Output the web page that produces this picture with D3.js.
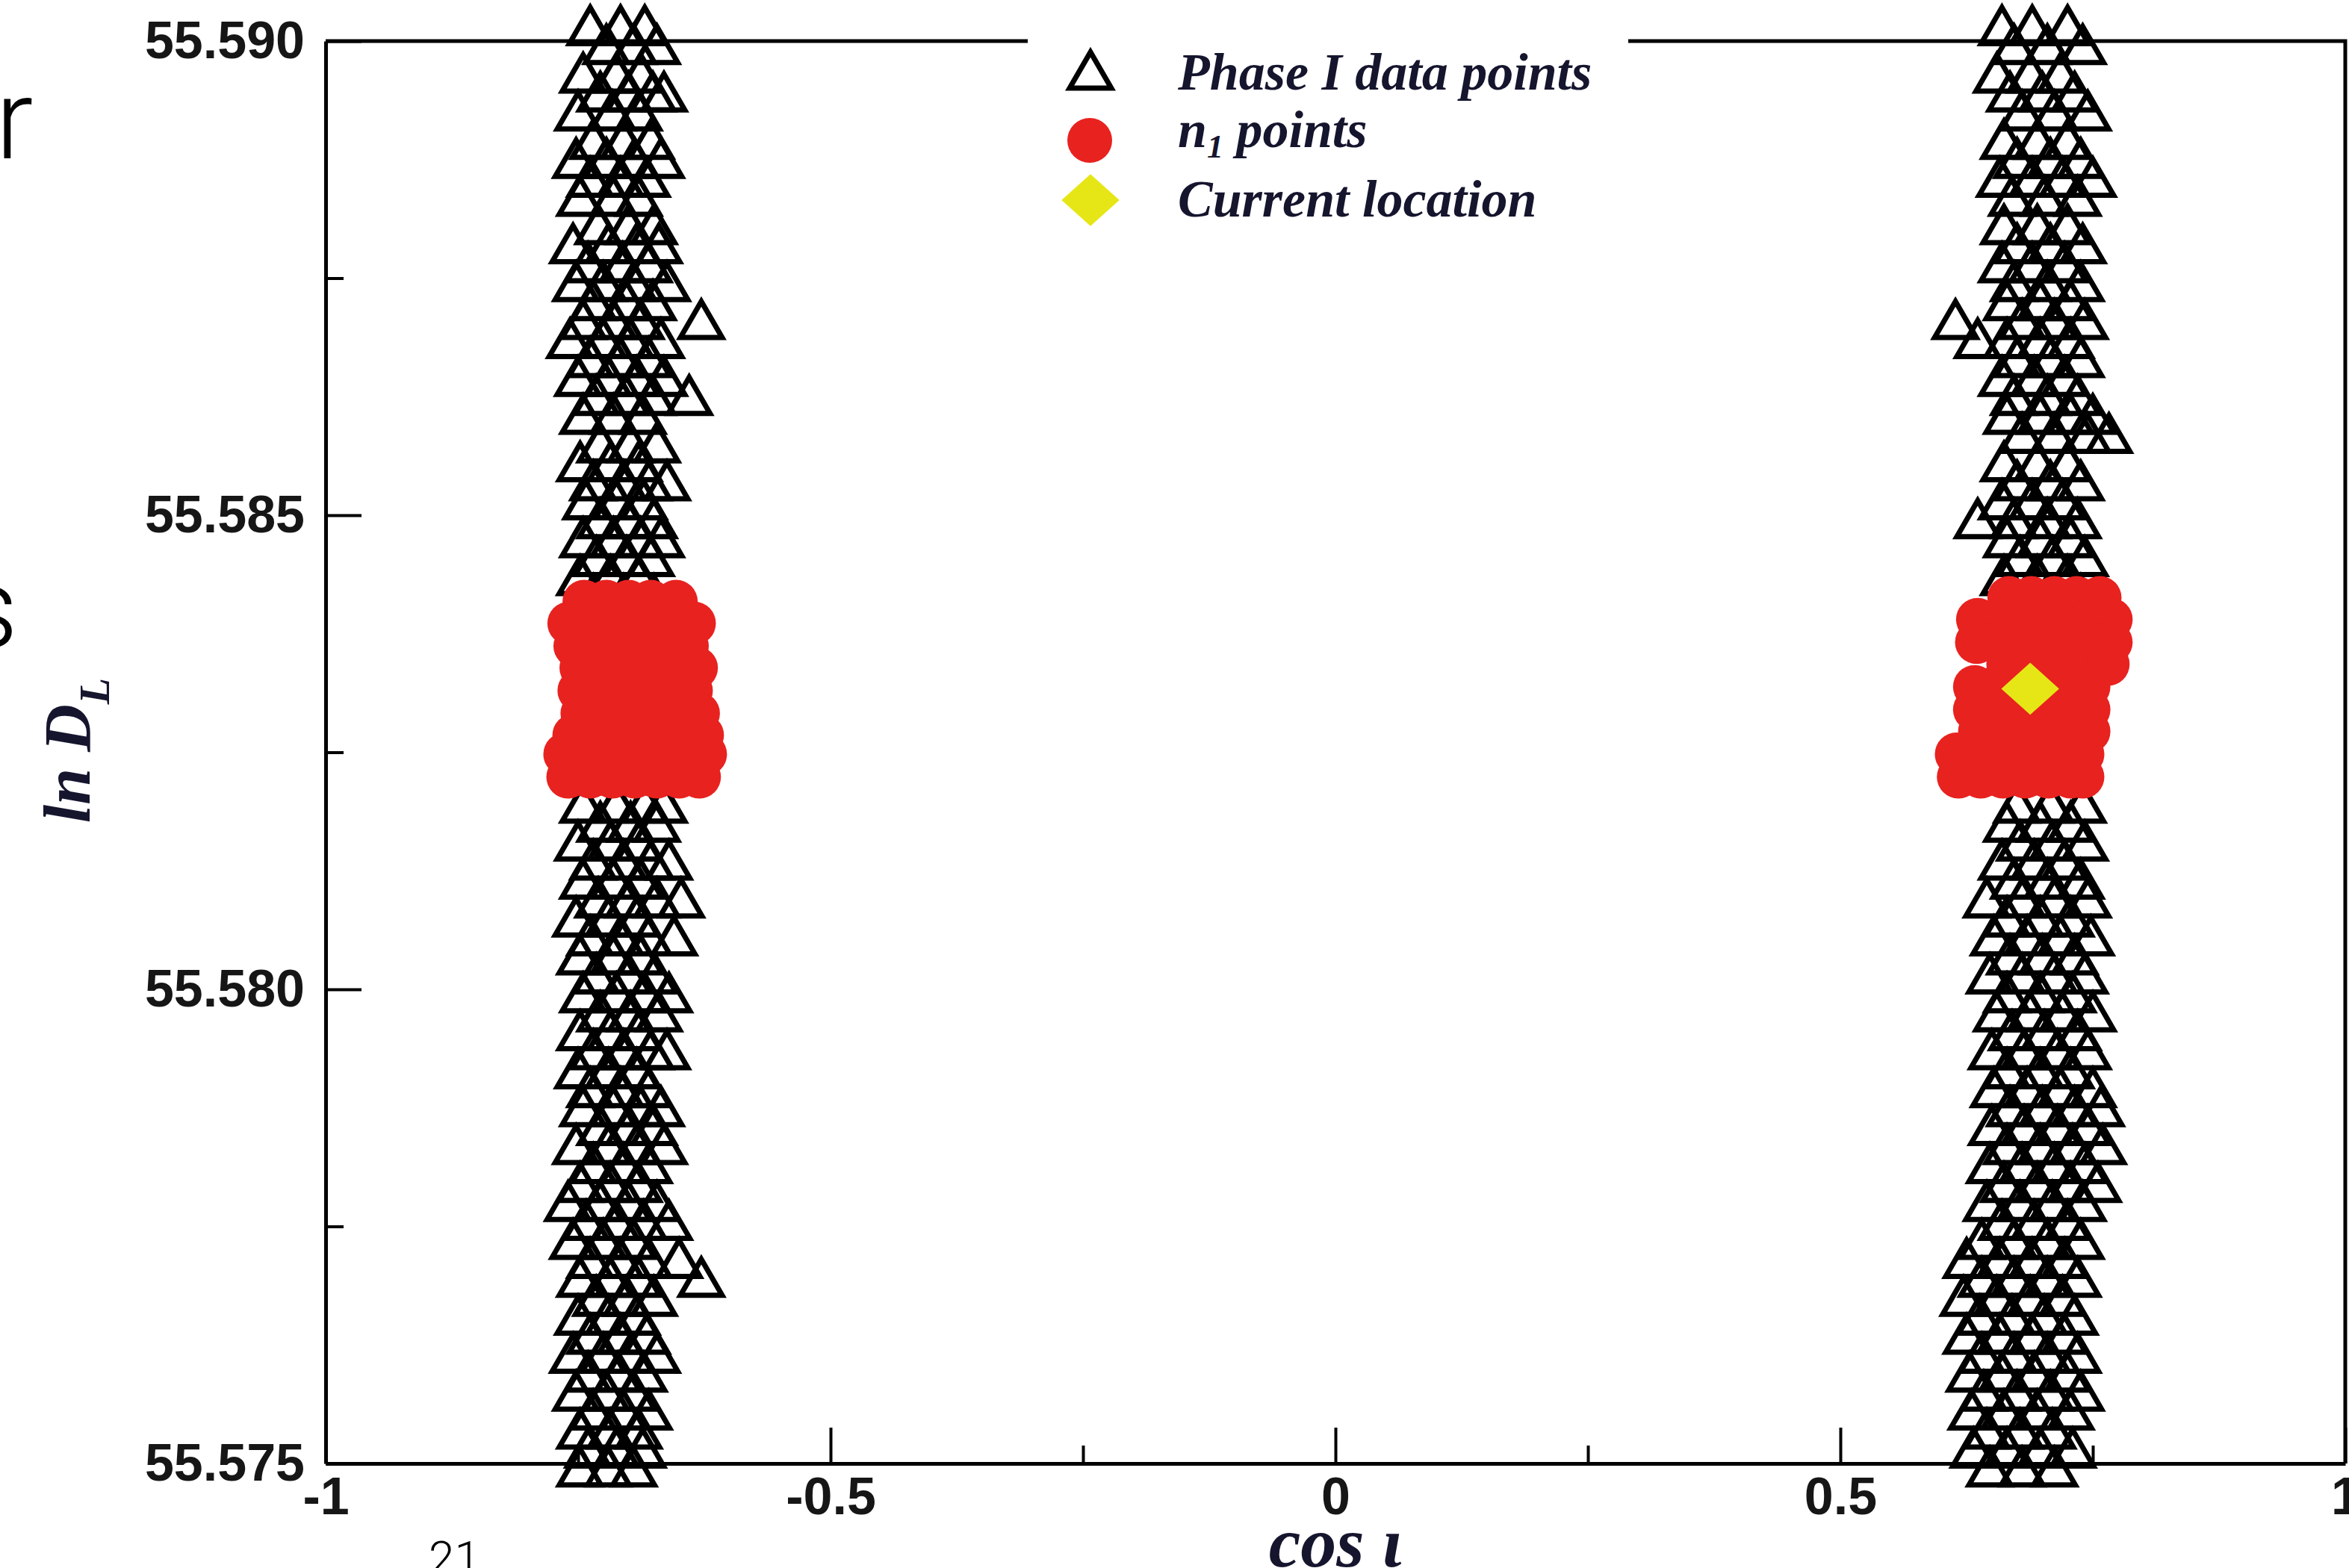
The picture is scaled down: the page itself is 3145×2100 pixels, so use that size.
<!DOCTYPE html>
<html>
<head>
<meta charset="utf-8">
<script src="https://cdn.jsdelivr.net/npm/d3@7"></script>
<style>
body { margin: 0; background: #fff; }
svg { display: block; }
</style>
</head>
<body>
<script>
// axis ticks
var xMajor = [-1, -0.5, 0, 0.5, 1];
var xMinor = [-0.75, -0.25, 0.25, 0.75];
var yMajor = [55.575, 55.580, 55.585, 55.590];
var yMinor = [55.5775, 55.5825, 55.5875];

// phase I points, rows of [lnDL, cos i, cos i, ...]
var phaseLeft = [
	[55.5901, -0.738, -0.708, -0.684],
	[55.5899, -0.722, -0.695, -0.672],
	[55.5896, -0.745, -0.712, -0.688],
	[55.5894, -0.728, -0.700, -0.676, -0.665],
	[55.5892, -0.750, -0.716, -0.690],
	[55.5889, -0.735, -0.705, -0.678],
	[55.5887, -0.752, -0.722, -0.694, -0.668],
	[55.5885, -0.738, -0.708, -0.682],
	[55.5883, -0.748, -0.715, -0.690],
	[55.5880, -0.730, -0.700, -0.675],
	[55.5878, -0.755, -0.720, -0.692, -0.670],
	[55.5876, -0.740, -0.706, -0.680],
	[55.5874, -0.752, -0.725, -0.695, -0.662],
	[55.5872, -0.735, -0.702, -0.676],
	[55.5870, -0.745, -0.715, -0.688, -0.628],
	[55.5868, -0.758, -0.725, -0.698, -0.668],
	[55.5866, -0.738, -0.708, -0.680],
	[55.5864, -0.750, -0.720, -0.692, -0.665],
	[55.5862, -0.732, -0.702, -0.676, -0.640],
	[55.5860, -0.745, -0.715, -0.686],
	[55.5857, -0.728, -0.698, -0.672],
	[55.5855, -0.748, -0.718, -0.690],
	[55.5853, -0.735, -0.705, -0.680, -0.662],
	[55.5851, -0.742, -0.712, -0.685],
	[55.5849, -0.728, -0.700, -0.675],
	[55.5847, -0.745, -0.715, -0.688, -0.668],
	[55.5845, -0.732, -0.702, -0.678],
	[55.5843, -0.748, -0.718, -0.690],
	[55.5841, -0.735, -0.705, -0.675],
	[55.5838, -0.725, -0.695, -0.668],
	[55.5834, -0.740, -0.705, -0.678],
	[55.5830, -0.728, -0.695, -0.670],
	[55.5826, -0.742, -0.708, -0.680],
	[55.5822, -0.730, -0.700, -0.672],
	[55.5819, -0.745, -0.712, -0.684, -0.665],
	[55.5817, -0.728, -0.698, -0.672],
	[55.5815, -0.750, -0.718, -0.690],
	[55.5813, -0.735, -0.705, -0.678, -0.660],
	[55.5811, -0.745, -0.715, -0.688],
	[55.5809, -0.730, -0.700, -0.672, -0.648],
	[55.5807, -0.752, -0.720, -0.692],
	[55.5805, -0.738, -0.708, -0.680, -0.655],
	[55.5803, -0.748, -0.715, -0.688],
	[55.5801, -0.732, -0.700, -0.674],
	[55.5799, -0.745, -0.712, -0.684, -0.660],
	[55.5797, -0.728, -0.698, -0.670],
	[55.5795, -0.748, -0.718, -0.690],
	[55.5793, -0.735, -0.705, -0.678, -0.662],
	[55.5791, -0.750, -0.720, -0.692],
	[55.5789, -0.738, -0.708, -0.680],
	[55.5787, -0.745, -0.715, -0.688, -0.668],
	[55.5785, -0.728, -0.700, -0.675],
	[55.5783, -0.752, -0.720, -0.692, -0.665],
	[55.5781, -0.735, -0.705, -0.680],
	[55.5779, -0.748, -0.718, -0.690],
	[55.5777, -0.760, -0.728, -0.700, -0.672],
	[55.5775, -0.742, -0.712, -0.685, -0.660],
	[55.5773, -0.755, -0.725, -0.695],
	[55.5771, -0.738, -0.708, -0.680, -0.650],
	[55.5769, -0.748, -0.718, -0.690, -0.628],
	[55.5767, -0.732, -0.702, -0.675],
	[55.5765, -0.750, -0.720, -0.692],
	[55.5763, -0.738, -0.708, -0.682],
	[55.5761, -0.755, -0.725, -0.698, -0.672],
	[55.5759, -0.740, -0.710, -0.685],
	[55.5757, -0.752, -0.722, -0.695],
	[55.5755, -0.735, -0.705, -0.680],
	[55.5753, -0.748, -0.718, -0.690],
	[55.5751, -0.740, -0.712, -0.686],
	[55.5749, -0.748, -0.720, -0.695]
];

var phaseRight = [
	[55.5901, 0.660, 0.690, 0.725],
	[55.5899, 0.672, 0.705, 0.740],
	[55.5896, 0.655, 0.688, 0.718],
	[55.5894, 0.668, 0.700, 0.732],
	[55.5892, 0.680, 0.712, 0.745],
	[55.5889, 0.662, 0.695, 0.725],
	[55.5887, 0.675, 0.708, 0.738],
	[55.5885, 0.658, 0.690, 0.720, 0.750],
	[55.5883, 0.670, 0.702, 0.735],
	[55.5880, 0.662, 0.695, 0.725],
	[55.5878, 0.675, 0.708, 0.740],
	[55.5876, 0.660, 0.690, 0.722],
	[55.5874, 0.672, 0.705, 0.738],
	[55.5872, 0.665, 0.698, 0.728],
	[55.5870, 0.614, 0.680, 0.712, 0.742],
	[55.5868, 0.636, 0.665, 0.698, 0.728],
	[55.5866, 0.675, 0.708, 0.738],
	[55.5864, 0.660, 0.692, 0.722],
	[55.5862, 0.672, 0.705, 0.735],
	[55.5860, 0.665, 0.698, 0.728, 0.750],
	[55.5858, 0.680, 0.712, 0.745, 0.766],
	[55.5855, 0.662, 0.695, 0.725],
	[55.5853, 0.675, 0.708, 0.738],
	[55.5851, 0.660, 0.690, 0.720],
	[55.5849, 0.636, 0.672, 0.705, 0.735],
	[55.5847, 0.665, 0.698, 0.728],
	[55.5845, 0.678, 0.710, 0.742],
	[55.5843, 0.662, 0.695, 0.725],
	[55.5841, 0.672, 0.705, 0.738],
	[55.5838, 0.665, 0.698, 0.730],
	[55.5834, 0.675, 0.708, 0.740],
	[55.5830, 0.662, 0.695, 0.728],
	[55.5826, 0.672, 0.705, 0.735],
	[55.5822, 0.660, 0.692, 0.725],
	[55.5819, 0.675, 0.708, 0.740],
	[55.5817, 0.665, 0.698, 0.728],
	[55.5815, 0.678, 0.710, 0.742],
	[55.5813, 0.660, 0.692, 0.722],
	[55.5811, 0.672, 0.705, 0.738],
	[55.5809, 0.645, 0.680, 0.712, 0.745],
	[55.5807, 0.665, 0.698, 0.728],
	[55.5805, 0.652, 0.685, 0.718, 0.748],
	[55.5803, 0.668, 0.700, 0.732],
	[55.5801, 0.648, 0.680, 0.712, 0.742],
	[55.5799, 0.665, 0.698, 0.730],
	[55.5797, 0.655, 0.688, 0.720, 0.750],
	[55.5795, 0.670, 0.702, 0.735],
	[55.5793, 0.650, 0.682, 0.715, 0.745],
	[55.5791, 0.665, 0.698, 0.728],
	[55.5789, 0.652, 0.685, 0.718, 0.750],
	[55.5787, 0.668, 0.700, 0.732, 0.758],
	[55.5785, 0.650, 0.682, 0.715, 0.745],
	[55.5783, 0.665, 0.698, 0.730, 0.760],
	[55.5781, 0.648, 0.680, 0.712, 0.742],
	[55.5779, 0.662, 0.695, 0.728, 0.755],
	[55.5777, 0.645, 0.678, 0.710, 0.740],
	[55.5775, 0.660, 0.692, 0.725],
	[55.5773, 0.640, 0.672, 0.705, 0.738],
	[55.5771, 0.625, 0.658, 0.690, 0.722],
	[55.5769, 0.640, 0.672, 0.705, 0.735],
	[55.5767, 0.622, 0.655, 0.688, 0.720],
	[55.5765, 0.638, 0.670, 0.702, 0.732],
	[55.5763, 0.625, 0.658, 0.690, 0.722],
	[55.5761, 0.640, 0.672, 0.705, 0.735],
	[55.5759, 0.628, 0.660, 0.692, 0.725],
	[55.5757, 0.642, 0.675, 0.708, 0.738],
	[55.5755, 0.630, 0.662, 0.695, 0.728],
	[55.5753, 0.645, 0.678, 0.710],
	[55.5751, 0.632, 0.665, 0.698, 0.730],
	[55.5749, 0.648, 0.680, 0.712]
];

// n1 points
var n1Left = [
	[55.58409, -0.744, -0.722, -0.700, -0.678, -0.653],
	[55.58386, -0.759, -0.737, -0.714, -0.692, -0.670, -0.648, -0.635],
	[55.58362, -0.753, -0.731, -0.709, -0.686, -0.664, -0.642],
	[55.58339, -0.747, -0.725, -0.703, -0.680, -0.658, -0.633],
	[55.58315, -0.749, -0.727, -0.705, -0.683, -0.660, -0.638],
	[55.58291, -0.746, -0.723, -0.701, -0.679, -0.657, -0.631],
	[55.58268, -0.754, -0.732, -0.710, -0.688, -0.666, -0.644, -0.627],
	[55.58248, -0.763, -0.741, -0.719, -0.697, -0.675, -0.652, -0.624],
	[55.58224, -0.760, -0.738, -0.716, -0.694, -0.672, -0.650, -0.630]
];
var n1Right = [
	[55.58413, 0.667, 0.689, 0.712, 0.734, 0.757],
	[55.58390, 0.636, 0.658, 0.681, 0.703, 0.725, 0.747, 0.768],
	[55.58366, 0.635, 0.657, 0.679, 0.701, 0.723, 0.746, 0.768],
	[55.58343, 0.666, 0.688, 0.710, 0.732, 0.754, 0.765],
	[55.58319, 0.633, 0.655, 0.678, 0.700, 0.722, 0.746],
	[55.58295, 0.633, 0.655, 0.678, 0.700, 0.722, 0.746],
	[55.58272, 0.638, 0.660, 0.682, 0.704, 0.726, 0.746],
	[55.58248, 0.615, 0.638, 0.660, 0.682, 0.704, 0.726, 0.740],
	[55.58224, 0.617, 0.639, 0.661, 0.683, 0.706, 0.728, 0.740]
];

var current = [0.688, 55.58317];

var W = 3145, H = 2100;
var red = "#e8221f", yellow = "#e6e617", ink = "#161616", navy = "#15152e";

var x = d3.scaleLinear().domain([-1, 1]).range([436, 3140]);
var y = d3.scaleLinear().domain([55.575, 55.590]).range([1960, 55]);

function toPoints(rows) {
	return d3.merge(rows.map(function(r) {
		return r.slice(1).map(function(v) { return {x: v, y: r[0]}; });
	}));
}

// rhombus like the xmgrace diamond
var diamond = {
	draw: function(ctx, size) {
		var w = Math.sqrt(size) / 2, h = w * 0.9;
		ctx.moveTo(0, -h); ctx.lineTo(w, 0); ctx.lineTo(0, h); ctx.lineTo(-w, 0); ctx.closePath();
	}
};

var svg = d3.select("body").append("svg")
	.attr("width", W).attr("height", H);
svg.append("rect").attr("width", W).attr("height", H).attr("fill", "#fff");

// slide leftovers around the figure
var slide = svg.append("g")
	.attr("font-family", "Roboto, 'Liberation Sans', sans-serif")
	.attr("font-weight", 300).attr("fill", "#000");
slide.append("text").attr("x", -6).attr("y", 212).attr("font-size", 150).text("r");
slide.append("text").attr("x", -52).attr("y", 867).attr("font-size", 150).text("s");
slide.append("text").attr("x", 574).attr("y", 2108).attr("font-size", 62).text("21");

// axes
function styleAxis(g) {
	g.select(".domain").attr("stroke", "#000").attr("stroke-width", 5);
	g.selectAll(".tick line").attr("stroke", "#000").attr("stroke-width", 4);
	g.selectAll(".tick text")
		.attr("font-family", "'Liberation Sans', Arial, sans-serif")
		.attr("font-weight", "bold").attr("font-size", 70).attr("fill", ink);
}

svg.append("g").attr("transform", "translate(0,1960)")
	.call(d3.axisBottom(x).tickValues(xMajor).tickSize(-48).tickSizeOuter(0).tickPadding(18)
		.tickFormat(function(d) { return String(d); }))
	.call(styleAxis);
svg.append("g").attr("transform", "translate(0,1960)")
	.call(d3.axisBottom(x).tickValues(xMinor).tickSize(-24).tickFormat(""))
	.call(styleAxis)
	.select(".domain").remove();

svg.append("g").attr("transform", "translate(436,0)")
	.call(d3.axisLeft(y).tickValues(yMajor).tickSize(-48).tickSizeOuter(0).tickPadding(28)
		.tickFormat(d3.format(".3f")))
	.call(styleAxis);
svg.append("g").attr("transform", "translate(436,0)")
	.call(d3.axisLeft(y).tickValues(yMinor).tickSize(-24).tickFormat(""))
	.call(styleAxis)
	.select(".domain").remove();

// top and right frame
svg.append("path")
	.attr("d", "M" + x(-1) + "," + y(55.590) + "H" + x(1) + "V" + y(55.575))
	.attr("fill", "none").attr("stroke", "#000").attr("stroke-width", 5);

// axis titles
var ylab = svg.append("text")
	.attr("transform", "translate(120,1005) rotate(-90)")
	.attr("text-anchor", "middle")
	.attr("font-family", "'Liberation Serif', 'Times New Roman', serif")
	.attr("font-style", "italic").attr("font-weight", "bold")
	.attr("font-size", 88).attr("fill", navy);
ylab.append("tspan").text("ln D");
ylab.append("tspan").attr("font-size", 58).attr("dy", 26).text("L");

svg.append("text")
	.attr("x", 1788).attr("y", 2098)
	.attr("text-anchor", "middle")
	.attr("font-family", "'Liberation Serif', 'Times New Roman', serif")
	.attr("font-style", "italic").attr("font-weight", "bold")
	.attr("font-size", 96).attr("fill", navy)
	.text("cos \u03b9");

// phase I triangles
var tri = d3.symbol().type(d3.symbolTriangle).size(1350);
svg.append("g").selectAll("path")
	.data(toPoints(phaseLeft).concat(toPoints(phaseRight)))
	.enter().append("path")
	.attr("d", tri)
	.attr("transform", function(d) { return "translate(" + x(d.x) + "," + y(d.y) + ")"; })
	.attr("fill", "none").attr("stroke", "#000").attr("stroke-width", 7)
	.attr("stroke-linejoin", "miter");

// n1 points
svg.append("g").selectAll("circle")
	.data(toPoints(n1Left).concat(toPoints(n1Right)))
	.enter().append("circle")
	.attr("cx", function(d) { return x(d.x); })
	.attr("cy", function(d) { return y(d.y); })
	.attr("r", 29)
	.attr("fill", red);

// current location
var dia = d3.symbol().type(diamond).size(6000);
svg.append("path")
	.datum(current)
	.attr("d", dia)
	.attr("transform", function(d) { return "translate(" + x(d[0]) + "," + y(d[1]) + ")"; })
	.attr("fill", yellow);

// legend
var legend = svg.append("g");
legend.append("rect")
	.attr("x", 1376).attr("y", 20).attr("width", 804).attr("height", 300)
	.attr("fill", "#fff");

var legendFont = function(t) {
	t.attr("font-family", "'Liberation Serif', 'Times New Roman', serif")
		.attr("font-style", "italic").attr("font-weight", "bold")
		.attr("font-size", 70).attr("fill", navy);
};

legend.append("path")
	.attr("d", tri)
	.attr("transform", "translate(1460,102)")
	.attr("fill", "none").attr("stroke", "#000").attr("stroke-width", 7);
legend.append("text").attr("x", 1577).attr("y", 120).call(legendFont)
	.text("Phase I data points");

legend.append("circle")
	.attr("cx", 1459).attr("cy", 188).attr("r", 30)
	.attr("fill", red);
var n1t = legend.append("text").attr("x", 1577).attr("y", 197).call(legendFont);
n1t.append("tspan").text("n");
n1t.append("tspan").attr("font-size", 44).attr("dy", 14).text("1");
n1t.append("tspan").attr("dy", -14).text(" points");

legend.append("path")
	.attr("d", dia)
	.attr("transform", "translate(1460,268)")
	.attr("fill", yellow);
legend.append("text").attr("x", 1577).attr("y", 290).call(legendFont)
	.text("Current location");
</script>
</body>
</html>
